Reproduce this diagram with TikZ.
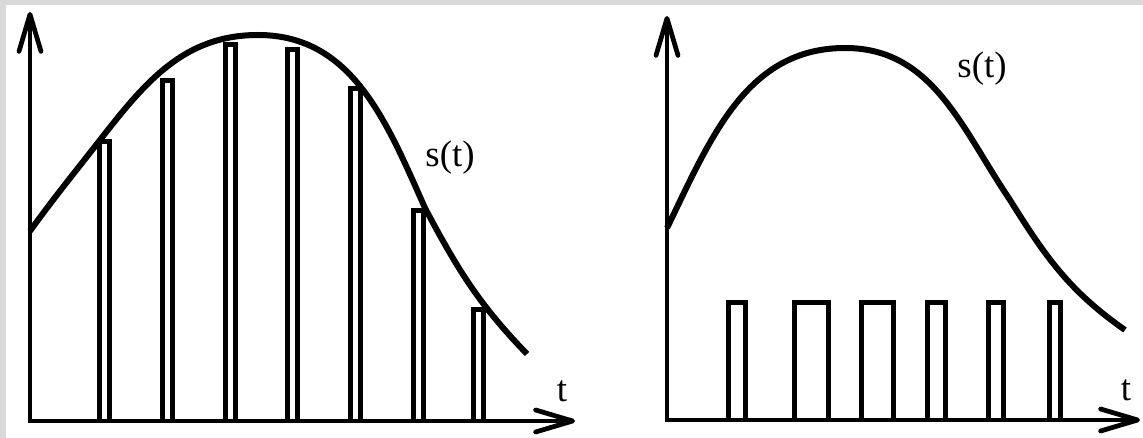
\documentclass[tikz,border=0pt]{standalone}
\usepackage{fontspec}
\setmainfont{Liberation Serif}
\usetikzlibrary{arrows.meta}

\begin{document}
\begin{tikzpicture}[
    x=0.02cm, y=-0.02cm,
    every node/.style={font=\fontsize{21}{25}\selectfont, inner sep=0pt},
    axis/.style={line width=0.095cm,
        {Straight Barb[length=0.74cm, width=0.44cm, round]}-{Straight Barb[length=0.74cm, width=0.44cm, round]}},
    pulse/.style={line width=0.1cm},
    signal/.style={line width=0.12cm},
]
    \useasboundingbox (0,0) rectangle (1143,438);
    % --- frame (grey slide edge on top and left) ---
    \fill[black!15] (0,0) rectangle (1143,438);
    \fill[white] (6,5) rectangle (1143,438);

    % --- left: samples following s(t) ---
    \coordinate (oL) at (30,421);
    \coordinate (yL) at (30,12);
    \coordinate (xL) at (575,421);
    \draw[axis] (yL) -- (oL) -- (xL);

    \foreach \l/\h in {97/139, 160/78, 223/42, 285/47, 348/86, 411/208, 471/307}
        \draw[pulse] (\l+2.5,421) -- (\l+2.5,\h+2.5) -- (\l+12.5,\h+2.5) -- (\l+12.5,421);

    \draw[signal] (30,231) to[out=54, in=-128] (100,140)
        to[out=52, in=180] (258,35)
        to[out=0, in=114] (425,208)
        to[out=-62, in=134] (527,354);

    \node (sL) at (450,158) {s(t)};
    \node (tL) at (562,391) {t};

    % --- right: pulses of varying width ---
    \coordinate (oR) at (667,420);
    \coordinate (yR) at (667,16);
    \coordinate (xR) at (1140,420);
    \draw[axis] (yR) -- (oR) -- (xR);

    \foreach \a/\b in {726/748, 792/831, 859/896, 925/948, 986/1006, 1047/1063}
        \draw[pulse] (\a+2.5,420) -- (\a+2.5,302.5) -- (\b-2.5,302.5) -- (\b-2.5,420);

    \draw[signal] (667,228) to[out=64, in=180] (845,48)
        to[out=0, in=124] (1010,200)
        to[out=-58, in=145] (1125,330);

    \node (sR) at (982,69) {s(t)};
    \node (tR) at (1126,390) {t};
\end{tikzpicture}
\end{document}
